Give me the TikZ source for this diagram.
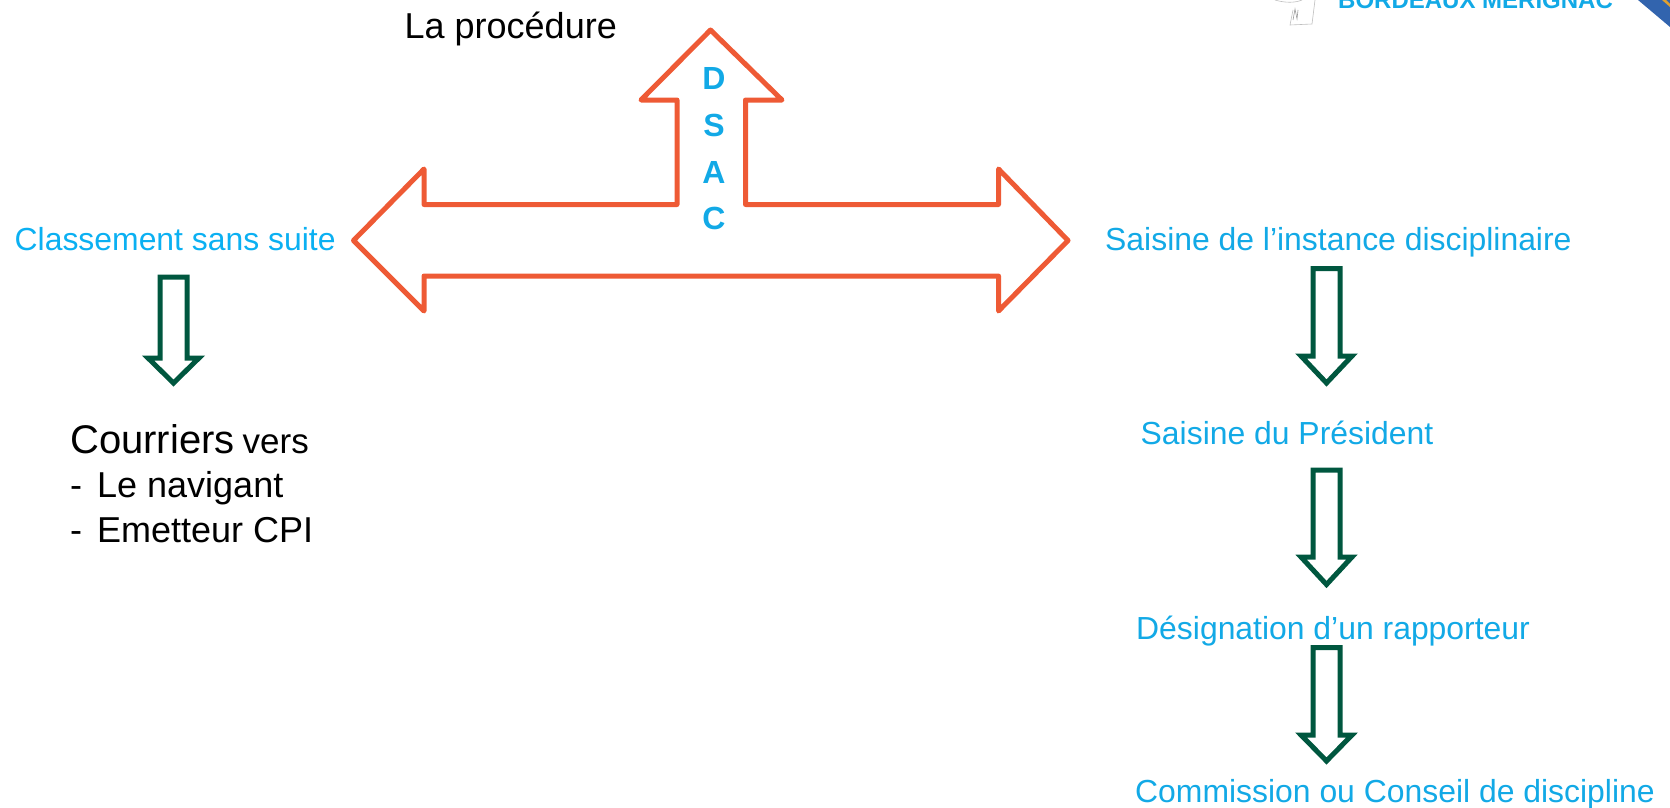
\documentclass[tikz,border=0pt]{standalone}
\usepackage{fontspec}
\setmainfont{Liberation Sans}
\usepackage{tikz}
\definecolor{darkorange}{HTML}{EE5A35}
\definecolor{darkgreen}{HTML}{00573F}
\definecolor{lightblue}{HTML}{12A9E6}
\definecolor{skyblue}{HTML}{0BB0F2}
\definecolor{logoblue}{HTML}{3264AE}
\definecolor{logoorange}{HTML}{E0A030}
\tikzset{
  label/.style={inner sep=0pt, anchor=base west},
  bluelabel/.style={label, text=lightblue, font=\fontsize{31.9}{38}\selectfont},
  blacklabel/.style={label, text=black, font=\fontsize{36}{42}\selectfont},
  dsacletter/.style={inner sep=0pt, text=lightblue, font=\fontsize{32}{38}\selectfont\bfseries},
  orangearrow/.style={draw=darkorange, line width=5pt, line join=round},
  greenarrow/.style={draw=darkgreen, line width=5pt, line join=miter}
}
\newcommand{\GREENARROW}[4]{
\draw[greenarrow] (#1-13.5, #2) -- (#1+13.5, #2) -- (#1+13.5, #3) -- (#1+25.5, #3)
 -- (#1, #4) -- (#1-25.5, #3) -- (#1-13.5, #3) -- cycle;
}

\begin{document}
\begin{tikzpicture}[x=1pt, y=-1pt]
\useasboundingbox (0, 0) rectangle (1670, 808);

\draw[orangearrow] (710.5, 30) -- (782, 100) -- (745.5, 100) -- (745.5, 204.5)
 -- (998.5, 204.5) -- (998.5, 169) -- (1068, 240.5) -- (998.5, 311) -- (998.5, 276)
 -- (424, 276) -- (424, 311) -- (353.5, 240.5) -- (424, 169) -- (424, 204.5)
 -- (677, 204.5) -- (677, 100) -- (641, 100) -- cycle;

\node[dsacletter] (d) at (714, 78) {D};
\node[dsacletter] (s) at (714, 125) {S};
\node[dsacletter] (a) at (714, 172) {A};
\node[dsacletter] (c) at (714, 218) {C};

\node[blacklabel] (title) at (404.5, 38.5) {La procédure};

\node[bluelabel, text=skyblue] (classement) at (14.5, 250) {Classement sans suite};
\GREENARROW{173.5}{277}{358}{383}
\node[label, font=\fontsize{40}{48}\selectfont] (courriers) at (70, 453)
 {Courriers\hspace{8pt}{\fontsize{35}{40}\selectfont vers}};
\node[blacklabel] (navigant) at (70, 497) {\makebox[27pt][l]{-}Le navigant};
\node[blacklabel] (emetteur) at (70, 542) {\makebox[27pt][l]{-}Emetteur CPI};

\node[bluelabel] (saisine) at (1105, 250) {Saisine de l’instance disciplinaire};
\GREENARROW{1326.5}{268.5}{356}{383}
\node[bluelabel] (president) at (1140.5, 444) {Saisine du Président};
\GREENARROW{1326.5}{470}{557}{584.5}
\node[bluelabel] (rapporteur) at (1136, 639) {Désignation d’un rapporteur};
\GREENARROW{1326.5}{647.5}{735}{761}
\node[bluelabel] (commission) at (1135, 802) {Commission ou Conseil de discipline};

\node[label, text=lightblue, font=\fontsize{24}{28}\selectfont\bfseries] (logo) at (1338, 9) {BORDEAUX MERIGNAC};
\fill[logoblue] (1638, 0) -- (1670, 0) -- (1670, 27) -- cycle;
\fill[logoorange] (1662, 0) -- (1666, 0) -- (1670, 4) -- (1670, 7) -- cycle;
\draw[black!25, line width=0.6pt] (1275, 0) .. controls (1285, 3) and (1295, 3) .. (1302, 0);
\draw[black!25, line width=0.6pt] (1315, 0) -- (1312, 24) -- (1290, 25) -- (1293, 10);
\draw[black!40, line width=0.6pt] (1293, 20) -- (1295, 9) -- (1297, 19) -- (1298, 10);
\end{tikzpicture}
\end{document}
